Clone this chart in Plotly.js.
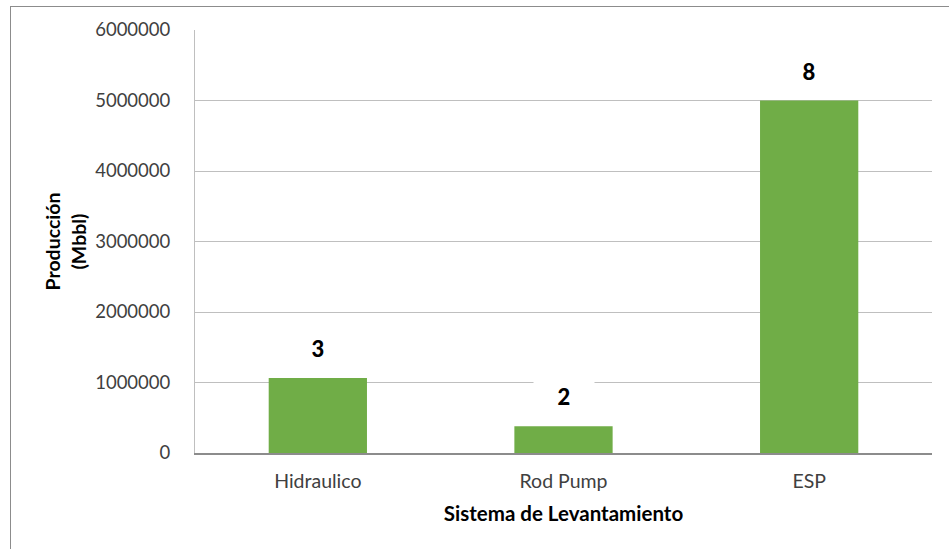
<!DOCTYPE html>
<html>
<head>
<meta charset="utf-8">
<script src="https://cdn.plot.ly/plotly-3.0.1.min.js"></script>
<style>
  html, body { margin: 0; padding: 0; background: #ffffff; }
  #wrap { position: relative; width: 949px; height: 549px; overflow: hidden; }
  #chart { width: 949px; height: 549px; }
  #frame {
    position: absolute; left: 10px; top: 6px; width: 960px; height: 560px;
    border-left: 1.5px solid #8c8c8c; border-top: 1.5px solid #8c8c8c;
    pointer-events: none;
  }
</style>
</head>
<body>
<div id="wrap">
  <div id="chart"></div>
  <div id="frame"></div>
</div>
<script>
// Lift systems and their cumulative production (Mbbl)
const sistemas = ["Hidraulico", "Rod Pump", "ESP"];
const produccion = [1065000, 380000, 5000000];
// Number of wells per lift system, shown above each bar
const pozos = [3, 2, 8];
const yTicks = [0, 1000000, 2000000, 3000000, 4000000, 5000000, 6000000];

const FONT = "Lato, 'Noto Sans', sans-serif";

const trace = {
  type: "bar",
  x: sistemas,
  y: produccion,
  marker: { color: "#70ad47", line: { width: 0 } },
  hoverinfo: "x+y"
};

const labels = sistemas.map((s, i) => ({
  x: s,
  y: produccion[i],
  xref: "x",
  yref: "y",
  text: String(pozos[i]),
  showarrow: false,
  yanchor: "bottom",
  yshift: 10,
  width: 48,
  height: 26,
  borderpad: 6,
  bgcolor: "#ffffff",
  font: { family: FONT, size: 22, weight: 900, color: "#000000" }
}));

const layout = {
  width: 949,
  height: 549,
  paper_bgcolor: "#ffffff",
  plot_bgcolor: "#ffffff",
  margin: { l: 195, r: 17, t: 30, b: 96 },
  showlegend: false,
  bargap: 0.6,
  font: { family: FONT, color: "#404040" },
  xaxis: {
    type: "category",
    showgrid: false,
    showline: true,
    linecolor: "#8c8c8c",
    linewidth: 1.5,
    ticks: "",
    ticklabelstandoff: 10,
    tickfont: { family: FONT, size: 19.5, color: "#404040" },
    title: {
      text: "<b>Sistema de Levantamiento</b>",
      font: { family: FONT, size: 20.5, color: "#000000" },
      standoff: 15
    }
  },
  yaxis: {
    range: [0, 6000000],
    tickvals: yTicks,
    ticktext: yTicks.map(v => String(v)),
    showgrid: true,
    gridcolor: "#bfbfbf",
    gridwidth: 1,
    showline: true,
    linecolor: "#bfbfbf",
    linewidth: 1,
    zeroline: false,
    ticks: "",
    ticklabelstandoff: 20,
    tickfont: { family: FONT, size: 18.5, color: "#404040" },
    title: {
      text: "<b>Producción<br>(Mbbl)</b>",
      font: { family: FONT, size: 19.5, color: "#000000" },
      standoff: 3
    }
  },
  annotations: labels
};

Plotly.newPlot("chart", [trace], layout, { displayModeBar: false, staticPlot: true });
</script>
</body>
</html>
